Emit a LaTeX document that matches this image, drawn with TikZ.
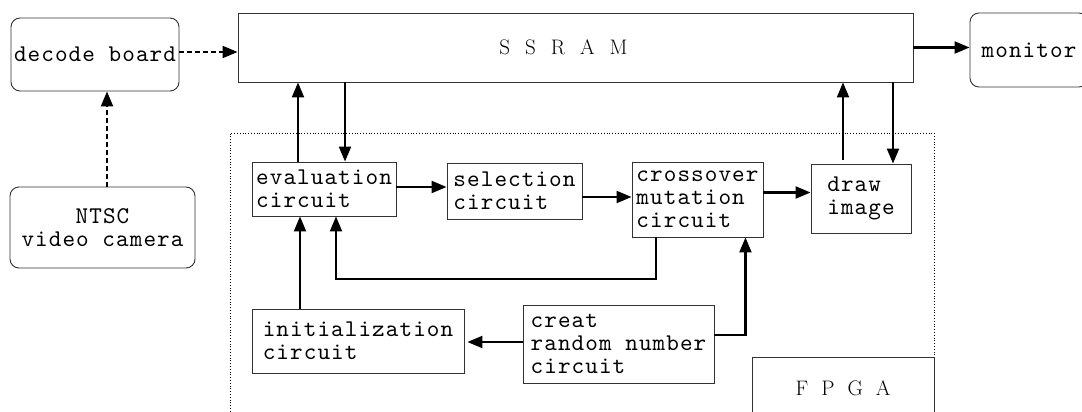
\documentclass[tikz,border=0pt]{standalone}
\usepackage{fontspec}
\usetikzlibrary{arrows.meta,calc}
\newfontfamily\simtt{lmmono10-regular.otf}[LetterSpace=4.5]
\newcommand\mytt{\simtt\fontsize{24}{23}\selectfont}
\tikzset{
  box/.style={draw=black!80, line width=0.9pt, inner xsep=3pt, inner ysep=2pt, align=left, font=\mytt},
  rbox/.style={box, rounded corners=9pt, align=center},
  arr/.style={line width=2.2pt, -{Triangle[length=15pt,width=12pt]}},
  darr/.style={arr, dash pattern=on 5pt off 3pt},
}
\begin{document}
\begin{tikzpicture}[x=1pt,y=-1pt]
\useasboundingbox (0,0) rectangle (1082,412);
% FPGA area
\draw[line width=0.8pt, dotted] (230,420) -- (230,133) -- (934,133) -- (934,420);
\node[draw=black!80, line width=0.9pt, minimum width=182, minimum height=63, font=\fontsize{21}{24}\selectfont] (fpga) at (843,388.5) {F\hspace{13pt}P\hspace{13pt}G\hspace{13pt}A};
% outside boxes
\node[rbox, minimum width=166, minimum height=73] (decode) at (95,54.5) {decode board};
\node[rbox, minimum width=185, minimum height=81] (ntsc) at (102.5,227.5) {NTSC\\video camera};
\node[box, minimum width=675, minimum height=69, font=\fontsize{21}{24}\selectfont] (ssram) at (575.5,47.5) {S\hspace{15pt}S\hspace{15pt}R\hspace{15pt}A\hspace{15pt}M\hspace{24pt}};
\node[rbox, minimum width=118, minimum height=74] (monitor) at (1029,50) {monitor};
% inner boxes
\node[box, minimum width=144, minimum height=54] (eval) at (324,189) {evaluation\\circuit};
\node[box, minimum width=135, minimum height=56] (sel) at (514.5,191) {selection\\circuit};
\node[box, minimum width=131, minimum height=75] (cross) at (697.5,199.5) {crossover\\mutation\\circuit};
\node[box, minimum width=100, minimum height=69] (drawimg) at (861,198.5) {draw\\image};
\node[box, minimum width=212, minimum height=64] (init) at (358,341) {initialization\\circuit};
\node[box, minimum width=191, minimum height=78] (rand) at (618.5,344) {creat\\random number\\circuit};
% connectors
\draw[darr] ([xshift=4.5pt]ntsc.north) -- ([xshift=4.5pt]ntsc.north |- decode.south);
\draw[darr] ([yshift=2.5pt]decode.east) -- ([yshift=2.5pt]decode.east -| ssram.west);
\draw[arr] ([xshift=-26pt]eval.north) -- ([xshift=-26pt]eval.north |- ssram.south);
\draw[arr] ([xshift=21pt]eval.north |- ssram.south) -- ([xshift=21pt]eval.north);
\draw[arr] ([yshift=2pt]eval.east) -- ([yshift=2pt]eval.east -| sel.west);
\draw[arr] ([yshift=-6pt]sel.east) -- ([yshift=-6pt]sel.east -| cross.west);
\draw[arr] ([yshift=7pt]cross.east) -- ([yshift=7pt]cross.east -| drawimg.west);
\draw[arr] ([xshift=-18pt,yshift=4pt]drawimg.north) -- ([xshift=-18pt]drawimg.north |- ssram.south);
\draw[arr] ([xshift=32pt]drawimg.north |- ssram.south) -- ([xshift=32pt]drawimg.north);
\draw[arr] (ssram.east) -- (ssram.east -| monitor.west);
\coordinate (c1) at ($(cross.south)+(-41.5,41.5)$);
\draw[arr] ([xshift=-41.5pt]cross.south) -- (c1) -- (c1 -| {$(eval.south)+(12,0)$}) -- ([xshift=12pt]eval.south);
\coordinate (c2) at ($(rand.east)+(31,-9)$);
\draw[arr] ([yshift=9pt]rand.east) -- (c2) -- (c2 |- cross.south);
\draw[arr] ([yshift=2pt]rand.west) -- ([yshift=2pt,xshift=3pt]rand.west -| init.east);
\draw[arr] ([xshift=-58pt]init.north) -- ([xshift=-58pt]init.north |- eval.south);
\end{tikzpicture}
\end{document}
